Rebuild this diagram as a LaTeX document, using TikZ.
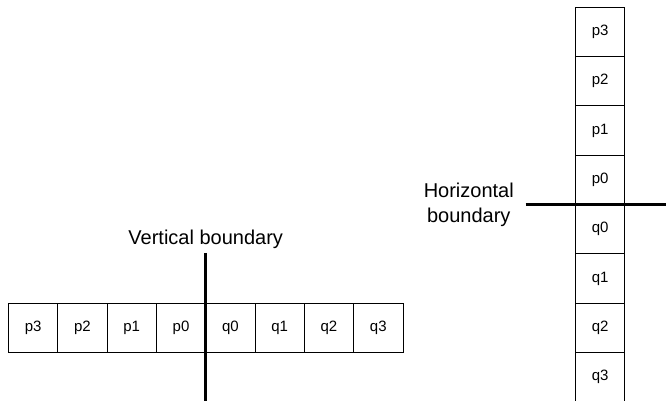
\documentclass[tikz,border=0pt]{standalone}
\usepackage{fontspec}
\setmainfont{Liberation Sans}
\usetikzlibrary{positioning}

\begin{document}
\begin{tikzpicture}[
    x=1pt, y=1pt,
    node distance=0pt,
    cell/.style={draw, line width=0.8pt, minimum width=49.3pt, minimum height=49.3pt, inner sep=0pt, outer sep=0pt, font=\fontsize{15}{18}\selectfont},
    lbl/.style={align=center, inner sep=0pt, font=\fontsize{20}{25}\selectfont},
    boundary/.style={line width=3pt}
]
\useasboundingbox (0,0) rectangle (666,401);

% Samples across a vertical edge
\node[cell, anchor=north west] (h1) at (8.5,98) {p3};
\node[cell, right=of h1] (h2) {p2};
\node[cell, right=of h2] (h3) {p1};
\node[cell, right=of h3] (h4) {p0};
\node[cell, right=of h4] (h5) {q0};
\node[cell, right=of h5] (h6) {q1};
\node[cell, right=of h6] (h7) {q2};
\node[cell, right=of h7] (h8) {q3};

% Samples across a horizontal edge
\node[cell, anchor=north west] (v1) at (575.5,393.7) {p3};
\node[cell, below=of v1] (v2) {p2};
\node[cell, below=of v2] (v3) {p1};
\node[cell, below=of v3] (v4) {p0};
\node[cell, below=of v4] (v5) {q0};
\node[cell, below=of v5] (v6) {q1};
\node[cell, below=of v6] (v7) {q2};
\node[cell, below=of v7] (v8) {q3};

% Boundaries
\coordinate[above=50pt of h4.north east] (vtop);
\coordinate[below=50pt of h4.south east] (vbot);
\coordinate[left=50pt of v4.south west] (hleft);
\coordinate[right=50pt of v4.south east] (hright);

\draw[boundary] (vtop) -- (vbot);
\draw[boundary] (hleft) -- (hright);

\node[lbl, above=4.5pt of vtop] (vlabel) {Vertical boundary};
\node[lbl, left=11.5pt of hleft] (hlabel) {Horizontal\\boundary};

\end{tikzpicture}
\end{document}
